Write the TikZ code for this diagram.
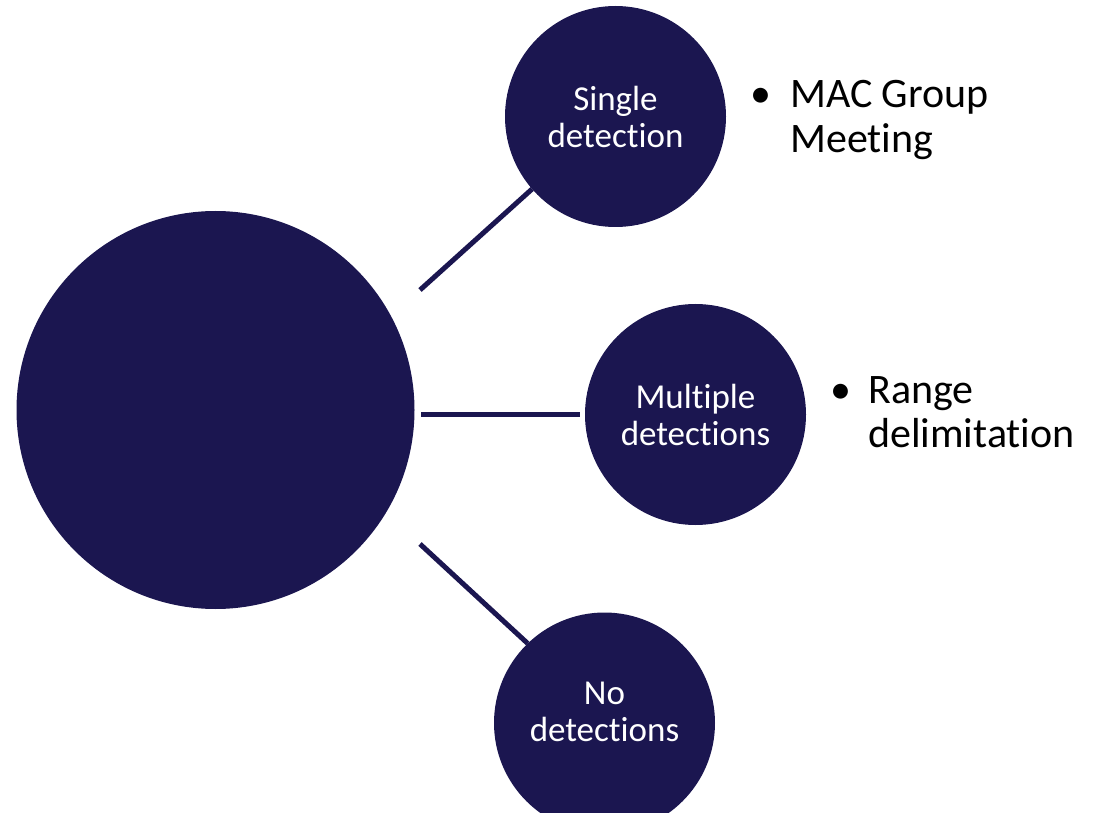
\documentclass[tikz,border=0pt]{standalone}
\usepackage{fontspec}
\setmainfont{Carlito}[Ligatures=NoCommon]
\definecolor{navy}{HTML}{1B1650}
\begin{document}
\begin{tikzpicture}[x=1pt,y=-1pt,
  bubble/.style={circle,fill=navy,draw=none,inner sep=0pt,outer sep=0pt,text=white,align=center,font=\fontsize{35}{37}\selectfont},
  conn/.style={draw=navy,line width=5pt},
  bullettext/.style={anchor=base west,align=left,inner sep=0pt,font=\fontsize{42}{44.5}\selectfont},
  bulletdot/.style={anchor=base west,inner sep=0pt,font=\fontsize{42}{44.5}\selectfont}]
\useasboundingbox (0,0) rectangle (1096,813);
\node[bubble,minimum size=398pt] (big) at (215.5,410) {};
\node[bubble,minimum size=221pt] (single) at (615.5,116.5) {Single\\detection};
\node[bubble,minimum size=221pt] (multi) at (695.5,414.5) {Multiple\\detections};
\node[bubble,minimum size=221pt,label={[text=white,align=center,font=\fontsize{35}{37}\selectfont,yshift=11pt]center:No\\detections}] (none) at (604.5,723) {};
\coordinate (c1) at (420,290);
\coordinate (c2) at (421,414.5);
\coordinate (c3) at (420,544);
\draw[conn] (c1) -- (single.221);
\draw[conn] (c2) -- ([xshift=-5pt]multi.west);
\draw[conn] (c3) -- (none.134);
\node[bulletdot] (b1) at (750,108) {•};
\node[bullettext] (t1) at (790,152.5) {MAC Group\\Meeting};
\node[bulletdot] (b2) at (830,403) {•};
\node[bullettext] (t2) at (868,447.5) {Range\\delimitation};
\end{tikzpicture}
\end{document}
